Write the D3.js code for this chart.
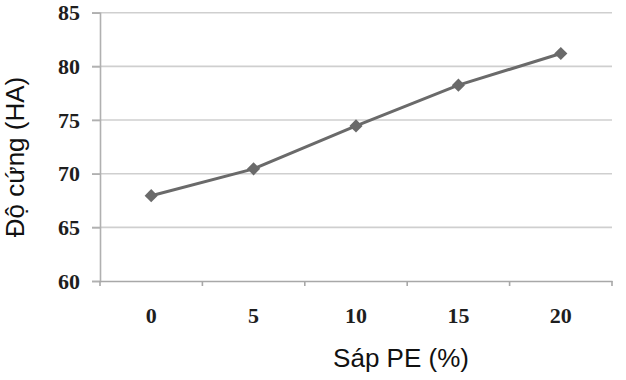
<!DOCTYPE html>
<html><head><meta charset="utf-8">
<script src="https://cdn.jsdelivr.net/npm/d3@7"></script>
<style>body{margin:0;background:#fff}</style>
</head><body>
<svg id="c" width="626" height="380"></svg>
<script>
const categories = ["0", "5", "10", "15", "20"];
const values = [67.95, 70.45, 74.45, 78.25, 81.2];
const yTicks = [60, 65, 70, 75, 80, 85];
const xTitle = "Sáp PE (%)";
const yTitle = "Độ cứng (HA)";

const svg = d3.select("#c");
const L = 100, R = 612, T = 12.7, B = 281;
const x = d3.scaleBand().domain(categories).range([L, R]);
const y = d3.scaleLinear().domain([60, 85]).range([B, T]);

// gridlines
svg.append("g").selectAll("line").data(yTicks.filter(d => d > 60)).join("line")
  .attr("x1", L - 8).attr("x2", R).attr("y1", d => y(d)).attr("y2", d => y(d))
  .attr("stroke", "#cfcfcf").attr("stroke-width", 1.6);

// y axis
const ya = svg.append("g").attr("transform", `translate(${L},0)`)
  .call(d3.axisLeft(y).tickValues(yTicks).tickSize(8).tickPadding(12));
ya.select(".domain").attr("stroke", "#b0b0b0").attr("stroke-width", 1.6);
ya.selectAll(".tick line").attr("stroke", "#b0b0b0").attr("stroke-width", 1.6);
ya.selectAll(".tick text").attr("font-family", "Liberation Serif").attr("font-weight", "bold")
  .attr("font-size", 22).attr("fill", "#1e1e1e");

// x axis
const xa = svg.append("g").attr("transform", `translate(0,${B})`)
  .call(d3.axisBottom(x).tickSize(0).tickPadding(0));
xa.select(".domain").attr("stroke", "#a8a8a8").attr("stroke-width", 1.6);
xa.selectAll(".tick text").attr("font-family", "Liberation Serif").attr("font-weight", "bold")
  .attr("font-size", 22).attr("fill", "#1e1e1e").attr("dy", 0).attr("y", 42);
// category boundary ticks
const bounds = categories.map(c => x(c)).concat([x(categories[categories.length-1]) + x.bandwidth()]);
svg.append("g").selectAll("line").data(bounds).join("line")
  .attr("x1", d => d).attr("x2", d => d).attr("y1", B).attr("y2", B + 5)
  .attr("stroke", "#a8a8a8").attr("stroke-width", 1.6);

// line
const line = d3.line().x((d, i) => x(categories[i]) + x.bandwidth() / 2).y(d => y(d));
svg.append("path").datum(values).attr("d", line).attr("fill", "none")
  .attr("stroke", "#6a6a6a").attr("stroke-width", 3);

// markers
svg.append("g").selectAll("path").data(values).join("path")
  .attr("transform", (d, i) => `translate(${x(categories[i]) + x.bandwidth() / 2},${y(d)})`)
  .attr("d", d3.symbol(d3.symbolDiamond2, 110)())
  .attr("fill", "#6a6a6a");

// titles
svg.append("text").attr("x", 401).attr("y", 367).attr("text-anchor", "middle")
  .attr("font-family", "Liberation Sans").attr("font-size", 26).attr("fill", "#111").text(xTitle);
svg.append("text").attr("transform", "translate(24,157) rotate(-90)").attr("text-anchor", "middle")
  .attr("font-family", "Liberation Sans").attr("font-size", 26).attr("fill", "#111").text(yTitle);
</script>
</body></html>
